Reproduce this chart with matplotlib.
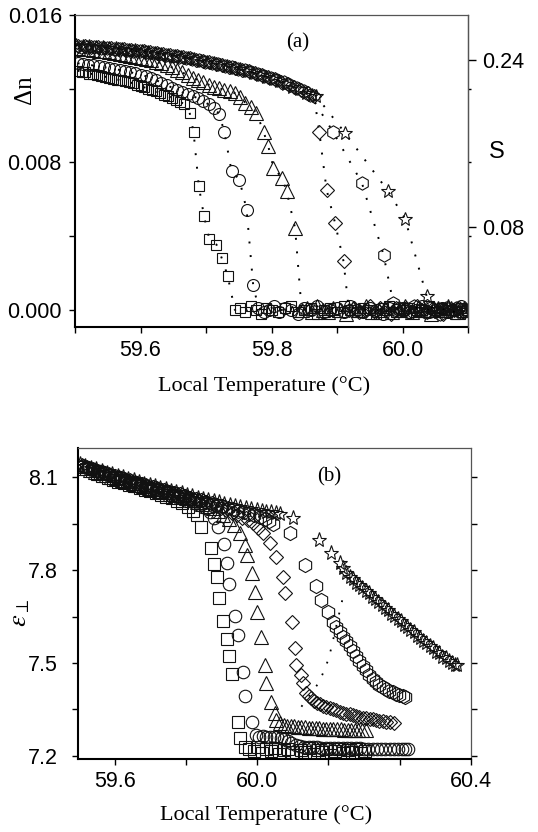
import matplotlib
matplotlib.use('Agg')
import matplotlib.pyplot as plt
import numpy as np

plt.rcParams['font.family'] = ['Liberation Sans', 'DejaVu Sans']
plt.rcParams['mathtext.fontset'] = 'stix'

SERIF = 'Liberation Serif'

# ---------------- panel (a): birefringence vs local temperature ----------------
sq_a_x = [59.504, 59.510, 59.516, 59.522, 59.528, 59.534, 59.540, 59.546, 59.552, 59.558,
          59.564, 59.570, 59.576, 59.582, 59.588, 59.594, 59.600, 59.606, 59.612, 59.618,
          59.624, 59.630, 59.636, 59.642, 59.648, 59.654, 59.660, 59.666,
          59.675, 59.681, 59.689, 59.697, 59.705, 59.716, 59.724, 59.733,
          59.744, 59.752, 59.760, 59.768, 59.776, 59.784, 59.792, 59.800, 59.810, 59.820,
          59.830, 59.840, 59.850, 59.860, 59.870, 59.880, 59.890, 59.900, 59.910, 59.920,
          59.930, 59.940, 59.950, 59.960, 59.970, 59.980, 59.990, 60.000, 60.010, 60.020,
          60.030, 60.040, 60.050, 60.060, 60.070, 60.080, 60.090, 60.098]
sq_a_y = [0.01298, 0.01292, 0.01288, 0.01282, 0.01279, 0.01275, 0.01270, 0.01265, 0.01260, 0.01255,
          0.01250, 0.01246, 0.01240, 0.01236, 0.01230, 0.01222, 0.01215, 0.01207, 0.01200, 0.01193,
          0.01185, 0.01176, 0.01168, 0.01160, 0.01150, 0.01140, 0.01130, 0.01118,
          0.01070, 0.00965, 0.00671, 0.00508, 0.00385, 0.00354, 0.00281, 0.00185,
          0.0000, 0.0001, -0.0001, 0.0002, 0.0000, -0.0002, 0.0001, 0.0000, -0.0001, 0.0001,
          0.0002, -0.0001, 0.0000, 0.0001, -0.0002, 0.0000, 0.0001, -0.0001, 0.0002, 0.0000,
          -0.0001, 0.0001, 0.0000, -0.0002, 0.0001, 0.0002, -0.0001, 0.0000, 0.0001, -0.0001,
          0.0000, 0.0002, -0.0001, 0.0001, 0.0000, -0.0002, 0.0001, 0.0000]

ci_a_x = [59.504, 59.512, 59.520, 59.528, 59.536, 59.544, 59.552, 59.560, 59.568, 59.576,
          59.584, 59.592, 59.600, 59.608, 59.616, 59.624, 59.632, 59.640, 59.648, 59.656,
          59.664, 59.672, 59.680, 59.688, 59.696, 59.704, 59.712, 59.720,
          59.728, 59.739, 59.751, 59.762, 59.772,
          59.780, 59.788, 59.796, 59.804, 59.812, 59.820, 59.830, 59.840, 59.850, 59.860,
          59.870, 59.880, 59.890, 59.900, 59.910, 59.920, 59.930, 59.940, 59.950, 59.960,
          59.970, 59.980, 59.990, 60.000, 60.010, 60.020, 60.030, 60.040, 60.050, 60.060,
          60.070, 60.080, 60.090, 60.098]
ci_a_y = [0.01338, 0.01334, 0.01330, 0.01326, 0.01322, 0.01317, 0.01312, 0.01307, 0.01302, 0.01296,
          0.01290, 0.01283, 0.01276, 0.01268, 0.01258, 0.01246, 0.01233, 0.01220, 0.01206, 0.01192,
          0.01180, 0.01170, 0.01160, 0.01147, 0.01132, 0.01115, 0.01095, 0.01065,
          0.00965, 0.00753, 0.00707, 0.00544, 0.00136,
          0.0001, -0.0001, 0.0000, 0.0002, -0.0001, 0.0001, 0.0000, -0.0002, 0.0001, 0.0000,
          0.0002, -0.0001, 0.0000, 0.0001, -0.0001, 0.0002, 0.0000, -0.0001, 0.0001, 0.0000,
          -0.0002, 0.0001, 0.0000, 0.0001, -0.0001, 0.0000, 0.0002, -0.0001, 0.0000, 0.0001,
          -0.0001, 0.0000, 0.0002, 0.0000]

tr_a_x = [59.504, 59.512, 59.520, 59.528, 59.536, 59.544, 59.552, 59.560, 59.568, 59.576,
          59.584, 59.592, 59.600, 59.608, 59.616, 59.624, 59.632, 59.640, 59.648, 59.656,
          59.664, 59.672, 59.680, 59.688, 59.696, 59.704, 59.712, 59.720, 59.728, 59.736,
          59.744, 59.752, 59.760, 59.768, 59.777,
          59.788, 59.795, 59.803, 59.816, 59.823, 59.836,
          59.846, 59.854, 59.862, 59.870, 59.878, 59.886, 59.894, 59.904, 59.914, 59.924,
          59.934, 59.944, 59.954, 59.964, 59.974, 59.984, 59.994, 60.004, 60.014, 60.024,
          60.034, 60.044, 60.054, 60.064, 60.074, 60.084, 60.094]
tr_a_y = [0.01420, 0.01417, 0.01414, 0.01411, 0.01407, 0.01403, 0.01399, 0.01395, 0.01390, 0.01385,
          0.01380, 0.01374, 0.01368, 0.01361, 0.01354, 0.01346, 0.01337, 0.01327, 0.01316, 0.01303,
          0.01289, 0.01272, 0.01258, 0.01246, 0.01235, 0.01222, 0.01210, 0.01202, 0.01195, 0.01186,
          0.01176, 0.01155, 0.01125, 0.01100, 0.01070,
          0.00965, 0.00889, 0.00771, 0.00717, 0.00644, 0.00444,
          0.0000, 0.0001, -0.0001, 0.0002, 0.0000, -0.0001, 0.0001, 0.0000, -0.0002, 0.0001,
          0.0000, 0.0002, -0.0001, 0.0000, 0.0001, -0.0001, 0.0000, 0.0002, -0.0001, 0.0001,
          0.0000, -0.0002, 0.0001, 0.0000, 0.0001, -0.0001, 0.0000]

di_a_x = [59.505, 59.515, 59.525, 59.535, 59.545, 59.555, 59.565, 59.575, 59.585, 59.595,
          59.605, 59.615, 59.625, 59.635, 59.645, 59.655, 59.665, 59.675, 59.685, 59.695,
          59.705, 59.715, 59.725, 59.735, 59.745, 59.755, 59.765, 59.775, 59.785, 59.795,
          59.805, 59.815, 59.825, 59.835, 59.845, 59.855, 59.865,
          59.873, 59.884, 59.897, 59.910,
          59.918, 59.926, 59.934, 59.942, 59.950, 59.958, 59.966, 59.974, 59.982, 59.990,
          59.998, 60.006, 60.014, 60.022, 60.030, 60.038, 60.046, 60.054, 60.062, 60.070,
          60.078, 60.086, 60.094]
di_a_y = [0.01432, 0.01430, 0.01428, 0.01426, 0.01423, 0.01420, 0.01417, 0.01414, 0.01410, 0.01406,
          0.01402, 0.01397, 0.01392, 0.01387, 0.01382, 0.01376, 0.01370, 0.01364, 0.01357, 0.01350,
          0.01343, 0.01336, 0.01328, 0.01320, 0.01312, 0.01303, 0.01294, 0.01284, 0.01274, 0.01263,
          0.01251, 0.01238, 0.01224, 0.01208, 0.01192, 0.01175, 0.01158,
          0.00965, 0.00653, 0.00472, 0.00263,
          0.0000, 0.0001, -0.0001, 0.0000, 0.0002, -0.0001, 0.0001, 0.0000, -0.0002, 0.0001,
          0.0000, 0.0001, -0.0001, 0.0002, 0.0000, -0.0001, 0.0001, 0.0000, -0.0002, 0.0001,
          0.0000, 0.0001, -0.0001]

hx_a_x = [59.509, 59.519, 59.529, 59.539, 59.549, 59.559, 59.569, 59.579, 59.589, 59.599,
          59.609, 59.619, 59.629, 59.639, 59.649, 59.659, 59.669, 59.679, 59.689, 59.699,
          59.709, 59.719, 59.729, 59.739, 59.749, 59.759, 59.769, 59.779, 59.789, 59.799,
          59.809, 59.819, 59.829, 59.839, 59.849, 59.859,
          59.894, 59.938, 59.971, 59.986,
          59.994, 60.002, 60.010, 60.018, 60.026, 60.034, 60.042, 60.050, 60.058, 60.066,
          60.074, 60.082, 60.090, 60.098]
hx_a_y = [0.01428, 0.01427, 0.01424, 0.01422, 0.01420, 0.01416, 0.01414, 0.01410, 0.01407, 0.01402,
          0.01399, 0.01393, 0.01389, 0.01383, 0.01379, 0.01372, 0.01367, 0.01360, 0.01354, 0.01346,
          0.01340, 0.01332, 0.01325, 0.01316, 0.01309, 0.01299, 0.01291, 0.01280, 0.01271, 0.01259,
          0.01247, 0.01234, 0.01219, 0.01203, 0.01186, 0.01168,
          0.00965, 0.00689, 0.00299, 0.00036,
          0.0001, 0.0000, -0.0001, 0.0002, 0.0000, -0.0001, 0.0001, 0.0000, -0.0002, 0.0001,
          0.0000, 0.0001, -0.0001, 0.0000]

st_a_x = [59.502, 59.512, 59.522, 59.532, 59.542, 59.552, 59.562, 59.572, 59.582, 59.592,
          59.602, 59.612, 59.622, 59.632, 59.642, 59.652, 59.662, 59.672, 59.682, 59.692,
          59.702, 59.712, 59.722, 59.732, 59.742, 59.752, 59.762, 59.772, 59.782, 59.792,
          59.802, 59.812, 59.822, 59.832, 59.842, 59.852, 59.862, 59.868,
          59.912, 59.978, 60.004, 60.037,
          60.046, 60.054, 60.062, 60.070, 60.078, 60.086, 60.094]
st_a_y = [0.01436, 0.01433, 0.01431, 0.01428, 0.01426, 0.01423, 0.01419, 0.01417, 0.01412, 0.01409,
          0.01404, 0.01400, 0.01394, 0.01390, 0.01384, 0.01379, 0.01372, 0.01367, 0.01360, 0.01353,
          0.01346, 0.01339, 0.01331, 0.01323, 0.01315, 0.01306, 0.01297, 0.01287, 0.01277, 0.01266,
          0.01254, 0.01241, 0.01227, 0.01212, 0.01196, 0.01179, 0.01165, 0.01161,
          0.00961, 0.00644, 0.00494, 0.00073,
          0.0001, -0.0001, 0.0000, 0.0002, -0.0001, 0.0000, 0.0001]

# ---------------- panel (b): perpendicular permittivity vs local temperature ----------------
sq_b_x = [59.505, 59.520, 59.535, 59.550, 59.565, 59.580, 59.595, 59.610, 59.625, 59.640,
          59.655, 59.670, 59.685, 59.700, 59.715, 59.730, 59.745, 59.760, 59.775, 59.790,
          59.805, 59.820, 59.832,
          59.842, 59.870, 59.880, 59.886, 59.894, 59.903, 59.914, 59.920, 59.930, 59.945,
          59.952, 59.966,
          59.978, 59.990, 60.002, 60.014, 60.026, 60.038, 60.050, 60.062, 60.074, 60.086,
          60.098, 60.110, 60.122, 60.134, 60.146, 60.158, 60.170, 60.182, 60.194, 60.206,
          60.218, 60.230, 60.242, 60.254, 60.266, 60.278, 60.290, 60.302]
sq_b_y = [8.135, 8.128, 8.120, 8.112, 8.105, 8.098, 8.092, 8.086, 8.081, 8.076,
          8.071, 8.065, 8.060, 8.055, 8.050, 8.044, 8.038, 8.032, 8.025, 8.016,
          8.005, 7.992, 7.978,
          7.941, 7.871, 7.819, 7.779, 7.709, 7.637, 7.577, 7.523, 7.465, 7.311,
          7.257, 7.230,
          7.222, 7.215, 7.228, 7.210, 7.222, 7.215, 7.225, 7.205, 7.218, 7.222,
          7.212, 7.203, 7.220, 7.214, 7.224, 7.207, 7.219, 7.212, 7.222, 7.204,
          7.216, 7.223, 7.210, 7.218, 7.213, 7.221, 7.208, 7.216]

ci_b_x = [59.510, 59.525, 59.540, 59.555, 59.570, 59.585, 59.600, 59.615, 59.630, 59.645,
          59.660, 59.675, 59.690, 59.705, 59.720, 59.735, 59.750, 59.765, 59.780, 59.795,
          59.810, 59.825, 59.840, 59.855, 59.868, 59.878,
          59.891, 59.907, 59.914, 59.922, 59.938, 59.945, 59.961, 59.967, 59.984, 59.996,
          60.006, 60.016, 60.026, 60.036, 60.046, 60.056, 60.066, 60.076, 60.086, 60.096,
          60.108, 60.120, 60.132, 60.144, 60.156, 60.168, 60.180, 60.192, 60.204, 60.216,
          60.228, 60.240, 60.252, 60.264, 60.276, 60.288, 60.300, 60.312, 60.324, 60.336,
          60.348, 60.360, 60.372, 60.384, 60.396, 60.406, 60.414, 60.422]
ci_b_y = [8.138, 8.132, 8.126, 8.120, 8.114, 8.108, 8.102, 8.097, 8.091, 8.086,
          8.080, 8.075, 8.070, 8.065, 8.060, 8.055, 8.050, 8.044, 8.038, 8.032,
          8.026, 8.018, 8.010, 8.000, 7.988, 7.968,
          7.941, 7.885, 7.822, 7.755, 7.652, 7.591, 7.472, 7.392, 7.311, 7.268,
          7.262, 7.263, 7.262, 7.262, 7.261, 7.260, 7.258, 7.255, 7.249, 7.242,
          7.236, 7.232, 7.230, 7.229, 7.228, 7.228, 7.227, 7.227, 7.226, 7.226,
          7.225, 7.225, 7.225, 7.224, 7.224, 7.224, 7.223, 7.223, 7.223, 7.223,
          7.222, 7.222, 7.222, 7.222, 7.222, 7.222, 7.223, 7.223]

tr_b_x = [59.515, 59.530, 59.545, 59.560, 59.575, 59.590, 59.605, 59.620, 59.635, 59.650,
          59.665, 59.680, 59.695, 59.710, 59.725, 59.740, 59.755, 59.770, 59.785, 59.800,
          59.815, 59.830, 59.845, 59.860, 59.875, 59.890, 59.905, 59.920, 59.935,
          59.952, 59.965, 59.970, 59.986, 59.993, 59.998, 60.012, 60.021, 60.026, 60.040,
          60.049, 60.054,
          60.064, 60.074, 60.084, 60.094, 60.104, 60.114, 60.124, 60.134, 60.144, 60.154,
          60.164, 60.174, 60.184, 60.194, 60.204, 60.214, 60.224, 60.234, 60.244, 60.254,
          60.264, 60.274, 60.284, 60.294, 60.304]
tr_b_y = [8.130, 8.124, 8.119, 8.113, 8.108, 8.102, 8.097, 8.092, 8.087, 8.082,
          8.077, 8.072, 8.067, 8.062, 8.057, 8.052, 8.047, 8.042, 8.037, 8.032,
          8.027, 8.021, 8.015, 8.008, 8.000, 7.991, 7.980, 7.965, 7.945,
          7.919, 7.882, 7.849, 7.790, 7.731, 7.666, 7.585, 7.494, 7.435, 7.375,
          7.338, 7.316,
          7.306, 7.301, 7.298, 7.296, 7.296, 7.294, 7.293, 7.292, 7.291, 7.290,
          7.290, 7.289, 7.288, 7.288, 7.287, 7.287, 7.286, 7.286, 7.285, 7.285,
          7.285, 7.284, 7.284, 7.284, 7.284]

di_b_x = [59.508, 59.523, 59.538, 59.553, 59.568, 59.583, 59.598, 59.613, 59.628, 59.643,
          59.658, 59.673, 59.688, 59.703, 59.718, 59.733, 59.748, 59.763, 59.778, 59.793,
          59.808, 59.823, 59.838, 59.853, 59.868, 59.883, 59.898, 59.913, 59.928, 59.943,
          59.958, 59.973, 59.989,
          60.003, 60.017, 60.035, 60.054, 60.073, 60.077, 60.099, 60.105, 60.110, 60.122,
          60.129, 60.138,
          60.144, 60.152, 60.160, 60.168, 60.176, 60.185, 60.194, 60.204, 60.213, 60.222,
          60.231, 60.240, 60.250, 60.260, 60.269, 60.278, 60.287, 60.296, 60.306, 60.316,
          60.325, 60.334, 60.343, 60.352, 60.362, 60.373, 60.385]
di_b_y = [8.140, 8.134, 8.128, 8.122, 8.116, 8.111, 8.105, 8.100, 8.095, 8.090,
          8.085, 8.080, 8.075, 8.070, 8.065, 8.060, 8.055, 8.050, 8.045, 8.040,
          8.035, 8.030, 8.025, 8.020, 8.014, 8.008, 8.001, 7.994, 7.986, 7.978,
          7.970, 7.962, 7.954,
          7.935, 7.919, 7.887, 7.844, 7.779, 7.725, 7.634, 7.548, 7.494, 7.462,
          7.435, 7.402,
          7.395, 7.386, 7.378, 7.372, 7.367, 7.362, 7.358, 7.354, 7.351, 7.347,
          7.343, 7.340, 7.337, 7.334, 7.332, 7.329, 7.327, 7.324, 7.322, 7.320,
          7.318, 7.316, 7.314, 7.312, 7.310, 7.308, 7.305]

hx_b_x = [59.512, 59.527, 59.542, 59.557, 59.572, 59.587, 59.602, 59.617, 59.632, 59.647,
          59.662, 59.677, 59.692, 59.707, 59.722, 59.737, 59.752, 59.767, 59.782, 59.797,
          59.812, 59.827, 59.842, 59.857, 59.872, 59.887, 59.902, 59.917, 59.932, 59.947,
          59.962, 59.977, 59.992, 60.007, 60.022, 60.034, 60.045,
          60.091, 60.133, 60.164, 60.180, 60.199, 60.213,
          60.222, 60.231, 60.241, 60.250, 60.259, 60.269, 60.278, 60.287, 60.297, 60.306,
          60.315, 60.325, 60.334, 60.343, 60.352, 60.362, 60.371, 60.381, 60.390, 60.399,
          60.408, 60.416]
hx_b_y = [8.136, 8.131, 8.125, 8.119, 8.114, 8.108, 8.103, 8.098, 8.093, 8.088,
          8.083, 8.078, 8.073, 8.068, 8.064, 8.059, 8.054, 8.049, 8.045, 8.040,
          8.035, 8.031, 8.026, 8.021, 8.017, 8.012, 8.007, 8.002, 7.997, 7.992,
          7.987, 7.982, 7.977, 7.972, 7.966, 7.959, 7.951,
          7.919, 7.817, 7.749, 7.704, 7.666, 7.634,
          7.618, 7.602, 7.585, 7.572, 7.555, 7.540, 7.523, 7.507, 7.491, 7.476,
          7.462, 7.449, 7.438, 7.429, 7.422, 7.415, 7.410, 7.405, 7.400, 7.396,
          7.393, 7.390]

st_b_x = [59.503, 59.518, 59.533, 59.548, 59.563, 59.578, 59.593, 59.608, 59.623, 59.638,
          59.653, 59.668, 59.683, 59.698, 59.713, 59.728, 59.743, 59.758, 59.773, 59.788,
          59.803, 59.818, 59.833, 59.848, 59.863, 59.878, 59.893, 59.908, 59.923, 59.938,
          59.953, 59.968, 59.983, 59.998, 60.013, 60.026, 60.040, 60.052, 60.063,
          60.101, 60.173, 60.208, 60.231, 60.241, 60.250,
          60.259, 60.268, 60.277, 60.286, 60.295, 60.304, 60.313, 60.322, 60.331, 60.340,
          60.349, 60.358, 60.367, 60.376, 60.385, 60.394, 60.403, 60.412, 60.421, 60.430,
          60.439, 60.448, 60.457, 60.466, 60.475, 60.484, 60.493, 60.502, 60.511, 60.520,
          60.529, 60.538, 60.547, 60.556, 60.562]
st_b_y = [8.142, 8.137, 8.131, 8.126, 8.120, 8.115, 8.110, 8.105, 8.100, 8.095,
          8.090, 8.085, 8.080, 8.076, 8.071, 8.066, 8.062, 8.057, 8.053, 8.048,
          8.044, 8.040, 8.035, 8.031, 8.027, 8.023, 8.019, 8.015, 8.011, 8.007,
          8.004, 8.000, 7.997, 7.994, 7.991, 7.989, 7.987, 7.985, 7.982,
          7.968, 7.898, 7.855, 7.822, 7.806, 7.790,
          7.779, 7.772, 7.760, 7.753, 7.742, 7.733, 7.726, 7.714, 7.707, 7.696,
          7.689, 7.678, 7.671, 7.660, 7.653, 7.642, 7.635, 7.624, 7.618, 7.607,
          7.600, 7.589, 7.582, 7.571, 7.565, 7.554, 7.548, 7.537, 7.531, 7.521,
          7.515, 7.506, 7.501, 7.494, 7.494]

guide_b_x = [60.124, 60.175, 60.201, 60.241, 60.248]
guide_b_y = [7.359, 7.440, 7.515, 7.715, 7.725]

A_SERIES = [(sq_a_x, sq_a_y, 's', 7.6), (ci_a_x, ci_a_y, 'o', 8.6),
            (tr_a_x, tr_a_y, '^', 10.0), (di_a_x, di_a_y, 'D', 7.0),
            (hx_a_x, hx_a_y, 'h', 9.6), (st_a_x, st_a_y, '*', 10.5)]
B_SERIES = [(sq_b_x, sq_b_y, 's', 8.4), (ci_b_x, ci_b_y, 'o', 9.0),
            (tr_b_x, tr_b_y, '^', 10.5), (di_b_x, di_b_y, 'D', 7.2),
            (hx_b_x, hx_b_y, 'h', 10.2), (st_b_x, st_b_y, '*', 11.0)]

DOTS = (0, (1, 6))
TICK_FS = 15.5
LABEL_FS = 16


def style_frame(ax):
    for side in ('left', 'bottom'):
        ax.spines[side].set_linewidth(1.5)
        ax.spines[side].set_color('black')
    for side in ('top', 'right'):
        ax.spines[side].set_linewidth(0.9)
        ax.spines[side].set_color('#555555')
    ax.tick_params(which='both', direction='out', length=4.5, width=1.0,
                   labelsize=TICK_FS, top=False)


def draw_series(ax, series, dotted):
    for x, y, marker, ms in series:
        assert len(x) == len(y), (marker, len(x), len(y))
        ax.plot(x, y, linestyle=DOTS if dotted else 'none', color='black', lw=1.4,
                marker=marker, ms=ms, mfc='none', mec='#111111', mew=0.8)


fig = plt.figure(figsize=(5.38, 8.32), dpi=100)
W, H = 538.0, 832.0

# panel (a)
ax_a = fig.add_axes([75 / W, 1 - 327 / H, 393 / W, 312 / H])
draw_series(ax_a, A_SERIES, dotted=True)
ax_a.set_xlim(59.5, 60.1)
ax_a.set_ylim(-0.00093, 0.016)
style_frame(ax_a)
ax_a.set_xticks([59.6, 59.8, 60.0])
ax_a.set_xticklabels(['59.6', '59.8', '60.0'])
ax_a.set_xticks([59.5, 59.7, 59.9, 60.1], minor=True)
ax_a.set_yticks([0.0, 0.008, 0.016])
ax_a.set_yticklabels(['0.000', '0.008', '0.016'])
ax_a.set_yticks([0.004, 0.012], minor=True)
ax_a.tick_params(axis='x', pad=5)
ax_a.tick_params(axis='y', pad=5)
ax_a.set_xlabel('Local Temperature (°C)', family=SERIF, fontsize=LABEL_FS, va='center')
ax_a.xaxis.set_label_coords(0.48, -0.19)
ax_a.set_ylabel('Δn', family=SERIF, fontsize=18, va='center')
ax_a.yaxis.set_label_coords(-0.127, 0.76)
ax_a.text(0.567, 0.91, '(a)', transform=ax_a.transAxes, family=SERIF,
          fontsize=15, ha='center', va='center')

# order parameter scale, proportional to the birefringence
s_per_dn = 0.24 / 0.01355
ax_s = ax_a.twinx()
ax_s.set_ylim(-0.00093 * s_per_dn, 0.016 * s_per_dn)
ax_s.set_yticks([0.08, 0.24])
ax_s.set_yticklabels(['0.08', '0.24'])
ax_s.set_yticks([0.004 * s_per_dn, 0.008 * s_per_dn, 0.012 * s_per_dn], minor=True)
for side in ('left', 'bottom', 'top'):
    ax_s.spines[side].set_visible(False)
ax_s.spines['right'].set_linewidth(0.9)
ax_s.spines['right'].set_color('#555555')
ax_s.tick_params(axis='y', which='major', direction='out', length=6, width=1.0,
                 labelsize=TICK_FS, pad=4)
ax_s.tick_params(axis='y', which='minor', direction='out', length=2, width=1.0)
ax_s.set_ylabel('S', rotation=0, fontsize=17, va='center', ha='center')
ax_s.yaxis.set_label_coords(1.074, 0.56)

# panel (b)
ax_b = fig.add_axes([78 / W, 1 - 759.3 / H, 393 / W, 311.6 / H])
draw_series(ax_b, B_SERIES, dotted=False)
ax_b.plot(guide_b_x, guide_b_y, linestyle=DOTS, color='black', lw=1.3)
ax_b.set_xlim(59.497, 60.597)
ax_b.set_ylim(7.189, 8.196)
style_frame(ax_b)
ax_b.set_xticks([59.6, 59.8, 60.0, 60.2, 60.4, 60.6])
ax_b.set_xticklabels(['59.6', '', '60.0', '', '', '60.4'])
ax_b.set_yticks([7.2, 7.5, 7.8, 8.1])
ax_b.set_yticklabels(['7.2', '7.5', '7.8', '8.1'])
ax_b.set_yticks([7.35, 7.65, 7.95], minor=True)
ax_b.tick_params(axis='y', which='both', right=True, pad=10)
ax_b.tick_params(axis='x', pad=4)
ax_b.set_xlabel('Local Temperature (°C)', family=SERIF, fontsize=LABEL_FS, va='center')
ax_b.xaxis.set_label_coords(0.478, -0.179)
ax_b.set_ylabel(r'$\varepsilon_{\perp}$', fontsize=19, va='center')
ax_b.yaxis.set_label_coords(-0.148, 0.47)
ax_b.text(0.639, 0.906, '(b)', transform=ax_b.transAxes, family=SERIF,
          fontsize=15, ha='center', va='center')

fig.savefig('out.png', dpi=100)
